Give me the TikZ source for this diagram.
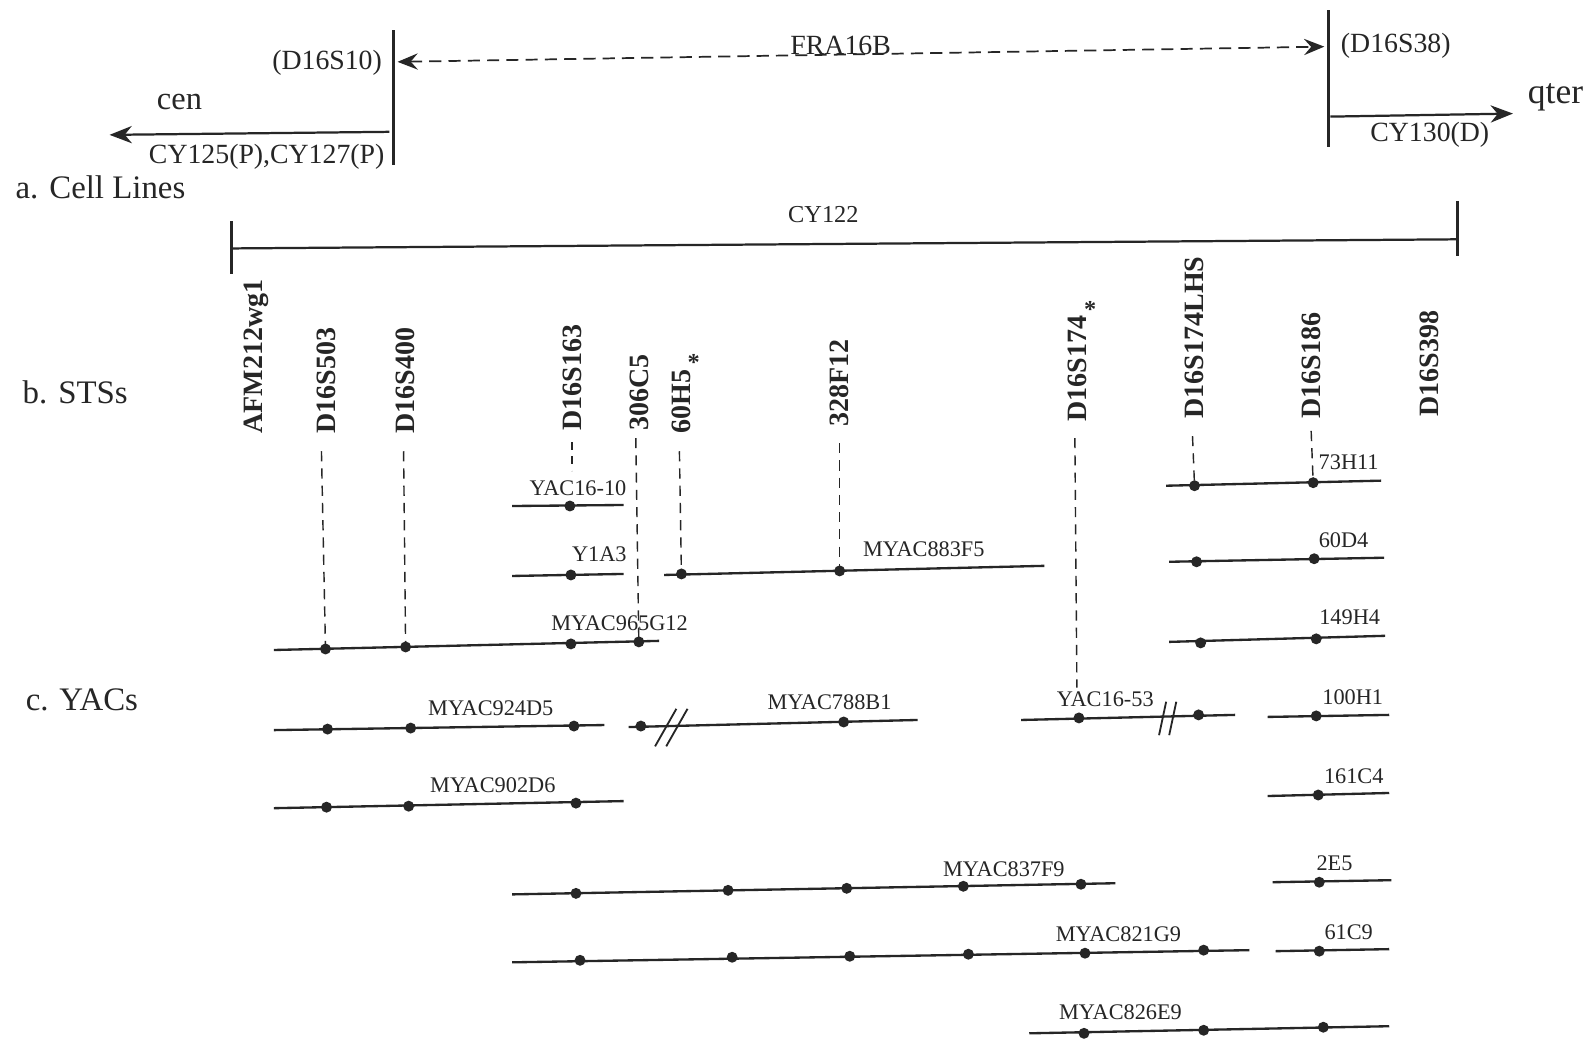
\documentclass[tikz,border=0pt]{standalone}
\usepackage{fontspec}
\setmainfont{Liberation Serif}
\usetikzlibrary{arrows.meta}
\begin{document}
\begin{tikzpicture}[x=0.5pt,y=-0.5pt,color=black!85,
  yac/.style={line width=1.15pt},
  bigline/.style={line width=1.6pt},
  dot/.style={circle,fill=black!85,inner sep=0pt,minimum size=5.4pt},
  dsh/.style={line width=0.7pt,dash pattern=on 5pt off 3.5pt},
  lab/.style={inner sep=0pt,font=\fontsize{11}{13}\selectfont},
  toplab/.style={inner sep=0pt,font=\fontsize{13.7}{16}\selectfont},
  sect/.style={inner sep=0pt,anchor=west,font=\fontsize{16.2}{19}\selectfont},
  sts/.style={inner sep=0pt,anchor=west,rotate=90,font=\bfseries\fontsize{13.8}{16}\selectfont},
  tip/.style={-{Stealth[length=11pt,width=8.5pt,inset=3.5pt]}}]
\useasboundingbox (0,0) rectangle (1568,1028);
\fill[white] (0,0) rectangle (1568,1028);

% ---------------- top: cell lines ----------------
\coordinate (vl1) at (388,30);  \coordinate (vl2) at (388,163);
\coordinate (vr1) at (1310,10); \coordinate (vr2) at (1310,145);
\draw[bigline] (vl1) -- (vl2);
\draw[bigline] (vr1) -- (vr2);
\coordinate (fraL) at (392,61); \coordinate (fraR) at (1306,46);
\draw[line width=0.85pt,dash pattern=on 6pt off 3.5pt,{Stealth[length=10pt,width=8pt,inset=3.5pt]}-{Stealth[length=10pt,width=8pt,inset=3.5pt]}] (fraL) -- (fraR);
\node[toplab] (fra) at (829,45) {FRA16B};
\node[toplab,anchor=east] (d16s10) at (377,62) {(D16S10)};
\node[toplab,anchor=west] (d16s38) at (1322,45) {(D16S38)};
\coordinate (cenS) at (384,130); \coordinate (cenE) at (108,133);
\draw[line width=1.1pt,tip] (cenS) -- (cenE);
\node[inner sep=0pt,font=\fontsize{16}{19}\selectfont] (cen) at (177,101) {cen};
\node[toplab] (cy125) at (263,155) {CY125(P),CY127(P)};
\coordinate (qS) at (1312,115); \coordinate (qE) at (1492,112);
\draw[line width=1.1pt,tip] (qS) -- (qE);
\node[inner sep=0pt,font=\fontsize{17.5}{20}\selectfont] (qter) at (1534,96) {qter};
\node[toplab] (cy130) at (1410,133) {CY130(D)};
\node[sect] (cell) at (15,185) {a. Cell Lines};
\coordinate (c1) at (228,245); \coordinate (c2) at (1437,236);
\coordinate (c1t) at (228,218); \coordinate (c1b) at (228,270);
\coordinate (c2t) at (1437,198); \coordinate (c2b) at (1437,252);
\draw[line width=1.1pt] (c1) -- (c2);
\draw[bigline] (c1t) -- (c1b);
\draw[bigline] (c2t) -- (c2b);
\node[inner sep=0pt,font=\fontsize{12}{14}\selectfont] (cy122) at (812,212) {CY122};

% ---------------- STSs ----------------
\node[sect] (stslab) at (22,387) {b. STSs};
\node[sts] (afm) at (253,428) {AFM212wg1};
\node[sts] (s503) at (322,428) {D16S503};
\node[sts] (s400) at (400,428) {D16S400};
\node[sts] (s163) at (564,425) {D16S163};
\node[sts] (c306) at (630,425) {306C5};
\node[sts] (h60) at (672,428) {60H5};
\node[inner sep=0pt,font=\bfseries\fontsize{12}{14}\selectfont] (ast1) at (684,357) {*};
\node[sts] (f328) at (828,421) {328F12};
\node[sts] (s174) at (1062,416) {D16S174};
\node[inner sep=0pt,font=\bfseries\fontsize{12}{14}\selectfont] (ast2) at (1075,305) {*};
\node[sts] (lhs) at (1178,413) {D16S174LHS};
\node[sts] (s186) at (1293,413) {D16S186};
\node[sts] (s398) at (1410,411) {D16S398};

% ---------------- YACs ----------------
\node[sect] (yaclab) at (25,690) {c. YACs};

% row 1
\draw[yac] (505,499) coordinate (r1a) -- (615,498) coordinate (r1b);
\node[dot] (d1610) at (562,499) {};
\node[lab] (t1610) at (570,481) {YAC16-10};
\draw[yac] (1150,479) coordinate (r73a) -- (1362,474) coordinate (r73b);
\node[dot] (d73a) at (1178,479) {};
\node[dot] (d73b) at (1295,476) {};
\node[lab] (t73) at (1330,456) {73H11};

% row 2
\draw[yac] (505,568) coordinate (ry1a) -- (615,566) coordinate (ry1b);
\node[dot] (dy1) at (563,567) {};
\node[lab] (ty1) at (591,547) {Y1A3};
\draw[yac] (655,567) coordinate (r883a) -- (1030,558) coordinate (r883b);
\node[dot] (d883a) at (672,566) {};
\node[dot] (d883b) at (828,563) {};
\node[lab] (t883) at (911,542) {MYAC883F5};
\draw[yac] (1153,554) coordinate (r60a) -- (1365,550) coordinate (r60b);
\node[dot] (d60a) at (1180,554) {};
\node[dot] (d60b) at (1296,551) {};
\node[lab] (t60) at (1325,533) {60D4};

% row 3
\draw[yac] (270,641) coordinate (r965a) -- (650,632) coordinate (r965b);
\node[dot] (d965a) at (321,640) {};
\node[dot] (d965b) at (400,638) {};
\node[dot] (d965c) at (563,635) {};
\node[dot] (d965d) at (630,633) {};
\node[lab] (t965) at (611,615) {MYAC965G12};
\draw[yac] (1153,633) coordinate (r149a) -- (1366,627) coordinate (r149b);
\node[dot] (d149a) at (1184,634) {};
\node[dot] (d149b) at (1298,630) {};
\node[lab] (t149) at (1331,609) {149H4};

% row 4
\draw[yac] (270,720) coordinate (r924a) -- (596,715) coordinate (r924b);
\node[dot] (d924a) at (323,719) {};
\node[dot] (d924b) at (405,718) {};
\node[dot] (d924c) at (566,716) {};
\node[lab] (t924) at (484,698) {MYAC924D5};
\draw[yac] (620,717) coordinate (r788a) -- (905,710) coordinate (r788b);
\node[dot] (d788a) at (632,716) {};
\node[dot] (d788b) at (832,712) {};
\draw[line width=0.9pt] (646,736) coordinate (br1a) -- (667,699) coordinate (br1b);
\draw[line width=0.9pt] (657,736) coordinate (br2a) -- (678,699) coordinate (br2b);
\node[lab] (t788) at (818,692) {MYAC788B1};
\draw[yac] (1007,710) coordinate (r53a) -- (1218,705) coordinate (r53b);
\node[dot] (d53a) at (1064,708) {};
\node[dot] (d53b) at (1182,705) {};
\draw[line width=0.9pt] (1143,725) coordinate (br3a) -- (1150,692) coordinate (br3b);
\draw[line width=0.9pt] (1153,725) coordinate (br4a) -- (1160,692) coordinate (br4b);
\node[lab] (t53) at (1090,690) {YAC16-53};
\draw[yac] (1250,707) coordinate (r100a) -- (1370,705) coordinate (r100b);
\node[dot] (d100) at (1298,706) {};
\node[lab] (t100) at (1334,688) {100H1};

% row 5
\draw[yac] (270,797) coordinate (r902a) -- (615,790) coordinate (r902b);
\node[dot] (d902a) at (322,796) {};
\node[dot] (d902b) at (403,795) {};
\node[dot] (d902c) at (568,792) {};
\node[lab] (t902) at (486,774) {MYAC902D6};
\draw[yac] (1250,785) coordinate (r161a) -- (1370,782) coordinate (r161b);
\node[dot] (d161) at (1300,784) {};
\node[lab] (t161) at (1335,765) {161C4};

% row 6
\draw[yac] (505,882) coordinate (r837a) -- (1100,871) coordinate (r837b);
\node[dot] (d837a) at (568,881) {};
\node[dot] (d837b) at (718,878) {};
\node[dot] (d837c) at (835,876) {};
\node[dot] (d837d) at (950,874) {};
\node[dot] (d837e) at (1066,872) {};
\node[lab] (t837) at (990,857) {MYAC837F9};
\draw[yac] (1255,870) coordinate (r2e5a) -- (1372,868) coordinate (r2e5b);
\node[dot] (d2e5) at (1301,870) {};
\node[lab] (t2e5) at (1316,851) {2E5};

% row 7
\draw[yac] (505,949) coordinate (r821a) -- (1232,937) coordinate (r821b);
\node[dot] (d821a) at (572,947) {};
\node[dot] (d821b) at (722,944) {};
\node[dot] (d821c) at (838,943) {};
\node[dot] (d821d) at (955,941) {};
\node[dot] (d821e) at (1070,940) {};
\node[dot] (d821f) at (1187,937) {};
\node[lab] (t821) at (1103,921) {MYAC821G9};
\draw[yac] (1258,938) coordinate (r61a) -- (1370,936) coordinate (r61b);
\node[dot] (d61) at (1301,938) {};
\node[lab] (t61) at (1330,919) {61C9};

% row 8
\draw[yac] (1015,1019) coordinate (r826a) -- (1370,1012) coordinate (r826b);
\node[dot] (d826a) at (1069,1019) {};
\node[dot] (d826b) at (1187,1016) {};
\node[dot] (d826c) at (1305,1013) {};
\node[lab] (t826) at (1105,998) {MYAC826E9};

% ---------------- dashed STS links ----------------
\coordinate (k503) at (317,445);
\coordinate (k400) at (398,445);
\coordinate (k163) at (564,436); \coordinate (k163e) at (564,464);
\coordinate (k306) at (627,432);
\coordinate (k60) at (670,445);
\coordinate (k328) at (828,437);
\coordinate (k174) at (1060,432); \coordinate (k174e) at (1062,678);
\coordinate (klhs) at (1176,430);
\coordinate (k186) at (1293,425);
\draw[dsh] (k503) -- (d965a.center);
\draw[dsh] (k400) -- (d965b.center);
\draw[line width=0.7pt,dash pattern=on 4pt off 3pt] (k163) -- (k163e);
\draw[dsh] (k306) -- (d965d.center);
\draw[dsh] (k60) -- (d883a.center);
\draw[dsh] (k328) -- (d883b.center);
\draw[dsh] (k174) -- (k174e);
\draw[dsh] (klhs) -- (d73a.center);
\draw[dsh] (k186) -- (d73b.center);
\end{tikzpicture}
\end{document}
